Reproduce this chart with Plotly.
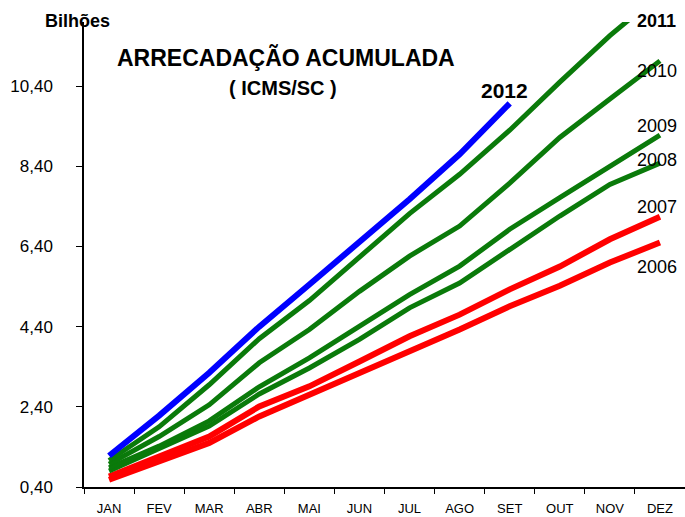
import plotly.graph_objects as go

meses = ['JAN', 'FEV', 'MAR', 'ABR', 'MAI', 'JUN', 'JUL', 'AGO', 'SET', 'OUT', 'NOV', 'DEZ']

# arrecadação acumulada (bilhões)
ano_2012 = [1.18, 2.18, 3.25, 4.40, 5.45, 6.50, 7.58, 8.70, 9.97]
ano_2011 = [1.06, 1.90, 2.95, 4.10, 5.05, 6.12, 7.22, 8.20, 9.30, 10.50, 11.66, 12.70]
ano_2010 = [0.97, 1.66, 2.45, 3.50, 4.33, 5.28, 6.16, 6.91, 7.98, 9.12, 10.08, 11.03]
ano_2009 = [0.88, 1.42, 2.05, 2.90, 3.62, 4.41, 5.20, 5.91, 6.83, 7.62, 8.41, 9.18]
ano_2008 = [0.80, 1.35, 1.92, 2.72, 3.37, 4.08, 4.87, 5.49, 6.33, 7.16, 7.95, 8.48]
ano_2007 = [0.66, 1.15, 1.66, 2.41, 2.91, 3.53, 4.16, 4.70, 5.33, 5.90, 6.58, 7.14]
ano_2006 = [0.58, 1.05, 1.50, 2.16, 2.70, 3.24, 3.78, 4.33, 4.91, 5.42, 6.00, 6.50]

ticks_y = [0.40, 2.40, 4.40, 6.40, 8.40, 10.40]

series = [
    ('2006', ano_2006, '#FF0000', 6),
    ('2007', ano_2007, '#FF0000', 6),
    ('2008', ano_2008, '#0A7A0A', 5),
    ('2009', ano_2009, '#0A7A0A', 5),
    ('2010', ano_2010, '#0A7A0A', 5),
    ('2011', ano_2011, '#0A7A0A', 5),
    ('2012', ano_2012, '#0000FF', 6),
]

fig = go.Figure()
for nome, valores, cor, larg in series:
    fig.add_trace(go.Scatter(
        x=meses[:len(valores)], y=valores, name=nome, mode='lines',
        line=dict(color=cor, width=larg), showlegend=False,
    ))

fonte = 'Liberation Sans, Arial, sans-serif'

# rótulos dos anos à direita
rotulos = [
    ('2011', 1.003, 'bold'),
    ('2010', 10.78, 'normal'),
    ('2009', 9.40, 'normal'),
    ('2008', 8.55, 'normal'),
    ('2007', 7.38, 'normal'),
    ('2006', 5.88, 'normal'),
]
anotacoes = []
for txt, yy, peso in rotulos:
    anotacoes.append(dict(
        text=txt, x='DEZ', xref='x', xshift=-3,
        y=yy, yref='paper' if txt == '2011' else 'y',
        xanchor='center', yanchor='middle', showarrow=False,
        font=dict(size=18, color='black', family=fonte, weight=peso),
    ))

anotacoes += [
    dict(text='2012', x='SET', xref='x', y=10.30, yref='y', xshift=-5, showarrow=False,
         xanchor='center', yanchor='middle',
         font=dict(size=21, color='black', family=fonte, weight='bold')),
    dict(text='ARRECADAÇÃO ACUMULADA', x=286, y=58, showarrow=False,
         font=dict(size=23, color='black', family=fonte, weight='bold')),
    dict(text='( ICMS/SC )', x=283, y=88, showarrow=False,
         font=dict(size=20, color='black', family=fonte, weight='bold')),
    dict(text='Bilhões', x=77, y=21, showarrow=False,
         font=dict(size=18, color='black', family=fonte, weight='bold')),
]

# as três últimas anotações em pixels -> converter para paper
W, H = 685, 517
ml, mr, mt, mb = 84, 0, 22, 30
for a in anotacoes[-3:]:
    a['xref'] = 'paper'
    a['yref'] = 'paper'
    a['xanchor'] = 'center'
    a['yanchor'] = 'middle'
    a['x'] = (a['x'] - ml) / (W - ml - mr)
    a['y'] = 1 - (a['y'] - mt) / (H - mt - mb)

fig.update_layout(
    width=W, height=H,
    margin=dict(l=ml, r=mr, t=mt, b=mb, autoexpand=False),
    paper_bgcolor='white', plot_bgcolor='white',
    separators=',.',
    font=dict(family=fonte, color='black'),
    annotations=anotacoes,
    xaxis=dict(
        type='category', categoryorder='array', categoryarray=meses,
        range=[-0.5, 11.5], showgrid=False, zeroline=False,
        showline=True, linecolor='black', linewidth=1.5,
        ticks='outside', tickson='boundaries', ticklen=5, tickcolor='black',
        tickfont=dict(size=13, family=fonte), ticklabelstandoff=9,
    ),
    yaxis=dict(
        range=[0.4, 12.0], showgrid=False, zeroline=False,
        showline=True, linecolor='black', linewidth=1.5,
        ticks='outside', ticklen=6, tickcolor='black',
        tickvals=ticks_y, tickformat='.2f',
        tickfont=dict(size=17, family=fonte), ticklabelstandoff=20,
    ),
)

# tirar a margem padrão do <body>
fig.write_html("out.html", config={'displayModeBar': False},
               post_script="document.body.style.margin='0';")
